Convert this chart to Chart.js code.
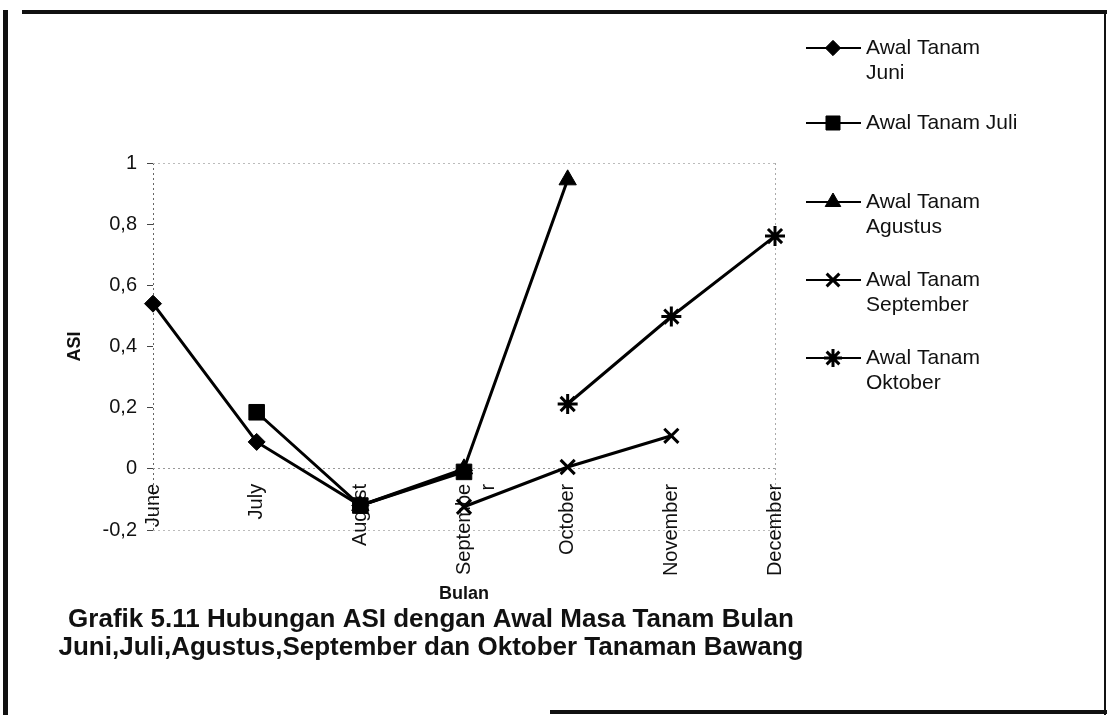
<!DOCTYPE html>
<html>
<head>
<meta charset="utf-8">
<script src="https://cdn.jsdelivr.net/npm/chart.js@4.4.1/dist/chart.umd.min.js"></script>
<style>
  html, body { margin: 0; padding: 0; background: #fff; }
  #wrap { position: relative; width: 1107px; height: 715px; overflow: hidden; background: #fff; }
  #grafik { position: absolute; left: 0; top: 0; }
  .tepi { position: absolute; background: #111; }
</style>
</head>
<body>
<div id="wrap">
  <canvas id="grafik" width="1107" height="715"></canvas>
  <div class="tepi" style="left:3px;top:10px;width:5px;height:705px"></div>
  <div class="tepi" style="left:22px;top:10px;width:1085px;height:4px"></div>
  <div class="tepi" style="left:1104px;top:10px;width:2px;height:705px"></div>
  <div class="tepi" style="left:550px;top:710px;width:557px;height:4px"></div>
</div>
<script>
// data
const bulan = ['June', 'July', 'August', ['Septembe', 'r'], 'October', 'November', 'December'];
const tanamJuni = [0.54, 0.088, -0.12, -0.005, null, null, null];
const tanamJuli = [null, 0.185, -0.12, -0.01, null, null, null];
const tanamAgustus = [null, null, -0.12, 0.0, 0.945, null, null];
const tanamSeptember = [null, null, null, -0.124, 0.006, 0.108, null];
const tanamOktober = [null, null, null, null, 0.212, 0.498, 0.761];
const namaSeri = [
  ['Awal Tanam', 'Juni'],
  ['Awal Tanam Juli'],
  ['Awal Tanam', 'Agustus'],
  ['Awal Tanam', 'September'],
  ['Awal Tanam', 'Oktober']
];
const yTicks = [-0.2, 0, 0.2, 0.4, 0.6, 0.8, 1];
const judul = [
  'Grafik 5.11 Hubungan ASI dengan Awal Masa Tanam Bulan',
  'Juni,Juli,Agustus,September dan Oktober Tanaman Bawang'
];

const FONT = '"Liberation Sans", Arial, sans-serif';

function seri(label, data, style, radius, bw) {
  return {
    label: label,
    data: data,
    borderColor: '#000',
    backgroundColor: '#000',
    borderWidth: 3,
    pointStyle: style,
    pointRadius: radius,
    pointHoverRadius: radius,
    pointBorderWidth: bw,
    pointBackgroundColor: '#000',
    pointBorderColor: '#000',
    tension: 0,
    spanGaps: false,
    clip: false
  };
}

// legenda di sisi kanan
const legendaKanan = {
  id: 'legendaKanan',
  afterDraw(chart) {
    const ctx = chart.ctx;
    const baris = [48, 123, 202, 280, 358];
    chart.data.datasets.forEach(function (ds, i) {
      const y = baris[i];
      ctx.save();
      ctx.strokeStyle = '#000';
      ctx.fillStyle = '#000';
      ctx.lineWidth = 2;
      ctx.beginPath();
      ctx.moveTo(806, y);
      ctx.lineTo(861, y);
      ctx.stroke();
      ctx.lineWidth = ds.pointBorderWidth;
      Chart.helpers.drawPoint(ctx, {
        pointStyle: ds.pointStyle,
        radius: ds.pointRadius * 0.9,
        borderWidth: ds.pointBorderWidth,
        rotation: 0
      }, 833, y);
      ctx.font = '21px ' + FONT;
      ctx.textAlign = 'left';
      ctx.textBaseline = 'middle';
      ctx.fillStyle = '#111';
      namaSeri[i].forEach(function (t, k) {
        ctx.fillText(t, 866, y + k * 25);
      });
      ctx.restore();
    });
  }
};

// keterangan grafik di bawah
const keterangan = {
  id: 'keterangan',
  afterDraw(chart) {
    const ctx = chart.ctx;
    ctx.save();
    ctx.font = 'bold 26px ' + FONT;
    ctx.fillStyle = '#111';
    ctx.textAlign = 'center';
    ctx.textBaseline = 'middle';
    ctx.fillText(judul[0], 431, 620);
    ctx.fillText(judul[1], 431, 648);
    ctx.restore();
  }
};

const ctx = document.getElementById('grafik').getContext('2d');

new Chart(ctx, {
  type: 'line',
  data: {
    labels: bulan,
    datasets: [
      seri('Awal Tanam Juni', tanamJuni, 'rectRot', 8.5, 1),
      seri('Awal Tanam Juli', tanamJuli, 'rect', 11, 1),
      seri('Awal Tanam Agustus', tanamAgustus, 'triangle', 10, 1),
      seri('Awal Tanam September', tanamSeptember, 'crossRot', 10, 3),
      seri('Awal Tanam Oktober', tanamOktober, 'star', 10, 3)
    ]
  },
  options: {
    responsive: false,
    animation: false,
    layout: { padding: { left: 50, top: 163, right: 332, bottom: 185 } },
    plugins: {
      legend: { display: false },
      tooltip: { enabled: false },
      title: { display: false }
    },
    scales: {
      x: {
        type: 'category',
        position: { y: 0 },
        offset: false,
        border: { display: false, dash: [2, 3] },
        grid: {
          drawTicks: false,
          lineWidth: 1,
          color: function (c) {
            if (c.index === 0) return '#666';
            if (c.index === bulan.length - 1) return '#aaa';
            return 'rgba(0,0,0,0)';
          }
        },
        ticks: {
          autoSkip: false,
          maxRotation: 90,
          minRotation: 90,
          padding: 15,
          color: '#111',
          font: { family: FONT, size: 20 }
        },
        title: {
          display: true,
          text: 'Bulan',
          color: '#111',
          padding: { top: -8, bottom: 0 },
          font: { family: FONT, size: 18, weight: 'bold' }
        }
      },
      y: {
        min: -0.2,
        max: 1,
        afterFit: function (s) { s.width = 103; },
        afterBuildTicks: function (s) {
          s.ticks = yTicks.map(function (v) { return { value: v }; });
        },
        border: { display: false, dash: [2, 3] },
        grid: {
          lineWidth: 1,
          tickLength: 6,
          tickColor: '#444',
          color: function (c) {
            if (!c.tick) return 'rgba(0,0,0,0)';
            const v = c.tick.value;
            if (Math.abs(v) < 1e-9) return '#999';
            if (Math.abs(v - 1) < 1e-9 || Math.abs(v + 0.2) < 1e-9) return '#bbb';
            return 'rgba(0,0,0,0)';
          }
        },
        ticks: {
          padding: 10,
          color: '#111',
          font: { family: FONT, size: 20 },
          callback: function (v) {
            return String(Math.round(v * 10) / 10).replace('.', ',');
          }
        },
        title: {
          display: true,
          text: 'ASI',
          color: '#111',
          padding: { top: 14, bottom: 0 },
          font: { family: FONT, size: 18, weight: 'bold' }
        }
      }
    }
  },
  plugins: [legendaKanan, keterangan]
});
</script>
</body>
</html>
